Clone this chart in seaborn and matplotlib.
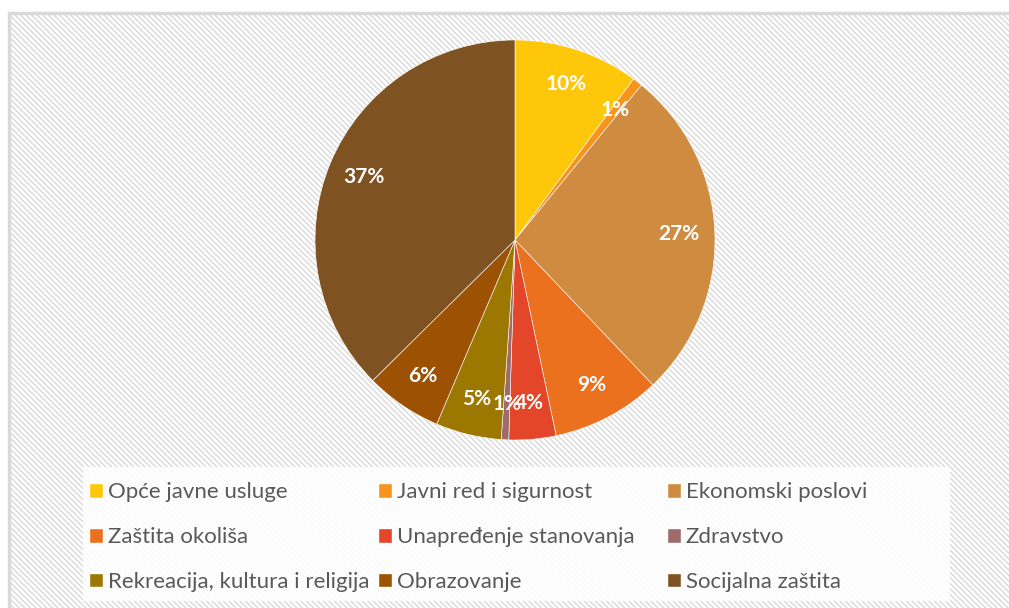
import matplotlib
matplotlib.use("Agg")
import matplotlib.pyplot as plt
import matplotlib.patches as mpatches
import seaborn as sns

# data (percent of total)
categories = ["Opće javne usluge", "Javni red i sigurnost", "Ekonomski poslovi",
              "Zaštita okoliša", "Unapređenje stanovanja", "Zdravstvo",
              "Rekreacija, kultura i religija", "Obrazovanje", "Socijalna zaštita"]
values = [10.1, 0.8, 27.0, 8.8, 3.8, 0.6, 5.3, 6.2, 37.4]
colors = ["#FFC70A", "#F7941D", "#CF8C40", "#EB711F", "#E34628",
          "#9E6A6A", "#9C7800", "#9D5203", "#7F5222"]

sns.set_style("white")
plt.rcParams["font.family"] = ["Lato", "DejaVu Sans"]
plt.rcParams["hatch.linewidth"] = 1.0
plt.rcParams["hatch.color"] = "#F1F1F1"

W, H = 1009, 608
fig = plt.figure(figsize=(W / 100, H / 100), dpi=100)

# hatched chart area background with light border
bg = mpatches.Rectangle((9 / W, -0.05), 1.1, (H - 13) / H + 0.05,
                        transform=fig.transFigure, facecolor="white",
                        edgecolor="#D9D9D9", linewidth=2.5, hatch="\\\\\\\\\\\\",
                        zorder=-5)
fig.patches.append(bg)

# white legend panel
panel = mpatches.Rectangle((83 / W, (H - 601) / H), (950 - 83) / W, 134 / H,
                           transform=fig.transFigure, facecolor="white",
                           alpha=0.85, edgecolor="none", zorder=-4)
fig.patches.append(panel)

ax = fig.add_axes([315 / W, (H - 440) / H, 400 / W, 400 / H])
ax.set_zorder(2)
ax.set_facecolor("none")
palette = sns.color_palette(colors)
wedges, texts, autotexts = ax.pie(values, colors=palette, startangle=90,
                                  counterclock=False, autopct="%1.0f%%",
                                  pctdistance=0.82,
                                  wedgeprops=dict(linewidth=0.4, edgecolor="#FFFFFF"),
                                  textprops=dict(color="white", fontsize=15,
                                                 fontweight="bold"))
ax.set_xlim(-1, 1)
ax.set_ylim(-1, 1)
ax.set_aspect("equal")
ax.axis("off")

# legend: three columns of equal width, filled row by row
col_x = [89, 378, 667]
for c in range(3):
    idx = [c, c + 3, c + 6]
    handles = [mpatches.Patch(facecolor=colors[i], label=categories[i]) for i in idx]
    leg = fig.legend(handles=handles, loc="upper left",
                     bbox_to_anchor=(col_x[c] / W, (H - 482) / H),
                     fontsize=16, frameon=False, handlelength=0.65,
                     handleheight=0.65, handletextpad=0.2, labelspacing=1.12,
                     borderpad=0, borderaxespad=0)
    for t in leg.get_texts():
        t.set_color("#595959")

fig.savefig("out.png", dpi=100)
